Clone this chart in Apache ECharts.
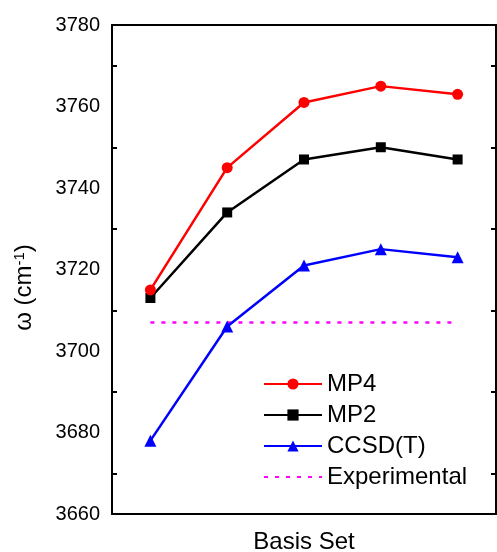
<!DOCTYPE html>
<html>
<head>
<meta charset="utf-8">
<script src="https://cdn.jsdelivr.net/npm/echarts@6/dist/echarts.min.js"></script>
<style>
  html, body { margin: 0; padding: 0; background: #fff; }
  #chart { width: 497px; height: 552px; }
</style>
</head>
<body>
<div id="chart"></div>
<script>
// Basis sets along the x axis (labels are not shown, only ticks)
const basisSets = ['B1', 'B2', 'B3', 'B4', 'B5'];

// Harmonic frequency ω (cm^-1) for each method
const mp4 = [3715, 3745, 3761, 3765, 3763];
const mp2 = [3713, 3734, 3747, 3750, 3747];
const ccsdt = [3678, 3706, 3721, 3725, 3723];
const experimental = [3707, 3707, 3707, 3707, 3707];

// Y axis range and tick spacing
const yMin = 3660;
const yMax = 3780;
const yStep = 20;

const FONT = "'Liberation Sans', Arial, sans-serif";

const chart = echarts.init(document.getElementById('chart'), null, { renderer: 'canvas' });

const tickCommon = { inside: true, length: 9, lineStyle: { color: '#000', width: 2 } };
const minorCommon = { show: true, splitNumber: 2, length: 5, lineStyle: { color: '#000', width: 2 } };
const lineCommon = { show: true, onZero: false, lineStyle: { color: '#000', width: 2 } };

chart.setOption({
  animation: false,
  backgroundColor: '#fff',
  grid: { left: 112, right: 1, top: 25, bottom: 38, containLabel: false, outerBoundsMode: 'none' },
  legend: {
    orient: 'vertical',
    left: 258,
    top: 367,
    itemWidth: 58,
    itemHeight: 14,
    itemGap: 7,
    textStyle: { fontFamily: FONT, fontSize: 24, color: '#000' },
    data: [
      'MP4',
      'MP2',
      'CCSD(T)',
      // dotted reference line: line only, no marker
      { name: 'Experimental', itemStyle: { color: 'rgba(0,0,0,0)', borderWidth: 0 } }
    ]
  },
  xAxis: [
    {
      type: 'category',
      data: basisSets,
      position: 'bottom',
      boundaryGap: true,
      name: 'Basis Set',
      nameLocation: 'middle',
      nameGap: 16,
      nameTextStyle: { fontFamily: FONT, fontSize: 24, color: '#000', verticalAlign: 'top' },
      axisLine: lineCommon,
      axisTick: Object.assign({ alignWithLabel: true }, tickCommon),
      axisLabel: { show: false },
      splitLine: { show: false }
    },
    {
      type: 'category',
      data: basisSets,
      position: 'top',
      boundaryGap: true,
      axisLine: lineCommon,
      axisTick: Object.assign({ alignWithLabel: true }, tickCommon),
      axisLabel: { show: false },
      splitLine: { show: false }
    }
  ],
  yAxis: [
    {
      type: 'value',
      position: 'left',
      min: yMin,
      max: yMax,
      interval: yStep,
      name: '{a|ω (cm}{sup|-1}{a|)}',
      nameLocation: 'middle',
      nameRotate: 90,
      nameGap: 75,
      nameTextStyle: {
        fontFamily: FONT,
        color: '#000',
        padding: [0, 36, 0, 0],
        rich: {
          a: { fontFamily: FONT, fontSize: 24, color: '#000' },
          sup: { fontFamily: FONT, fontSize: 15, color: '#000', verticalAlign: 'top', padding: [0, 0, 10, 0] }
        }
      },
      axisLine: lineCommon,
      axisTick: tickCommon,
      minorTick: minorCommon,
      axisLabel: {
        fontFamily: FONT,
        fontSize: 20,
        color: '#000',
        margin: 12,
        formatter: (v) => String(v)
      },
      splitLine: { show: false }
    },
    {
      type: 'value',
      position: 'right',
      min: yMin,
      max: yMax,
      interval: yStep,
      axisLine: lineCommon,
      axisTick: tickCommon,
      minorTick: minorCommon,
      axisLabel: { show: false },
      splitLine: { show: false }
    }
  ],
  series: [
    {
      name: 'MP4',
      type: 'line',
      data: mp4,
      symbol: 'circle',
      symbolSize: 11,
      color: '#ff0000',
      lineStyle: { color: '#ff0000', width: 2.5 },
      itemStyle: { color: '#ff0000' },
      z: 4
    },
    {
      name: 'MP2',
      type: 'line',
      data: mp2,
      symbol: 'rect',
      symbolSize: 10,
      color: '#000000',
      lineStyle: { color: '#000000', width: 2.5 },
      itemStyle: { color: '#000000' },
      z: 3
    },
    {
      name: 'CCSD(T)',
      type: 'line',
      data: ccsdt,
      symbol: 'triangle',
      symbolSize: 12,
      color: '#0000ff',
      lineStyle: { color: '#0000ff', width: 2.5 },
      itemStyle: { color: '#0000ff' },
      z: 3
    },
    {
      name: 'Experimental',
      type: 'line',
      data: experimental,
      symbol: 'none',
      color: '#ff00ff',
      lineStyle: { color: '#ff00ff', width: 2.5, type: [4, 7] },
      z: 2
    }
  ]
});
</script>
</body>
</html>
